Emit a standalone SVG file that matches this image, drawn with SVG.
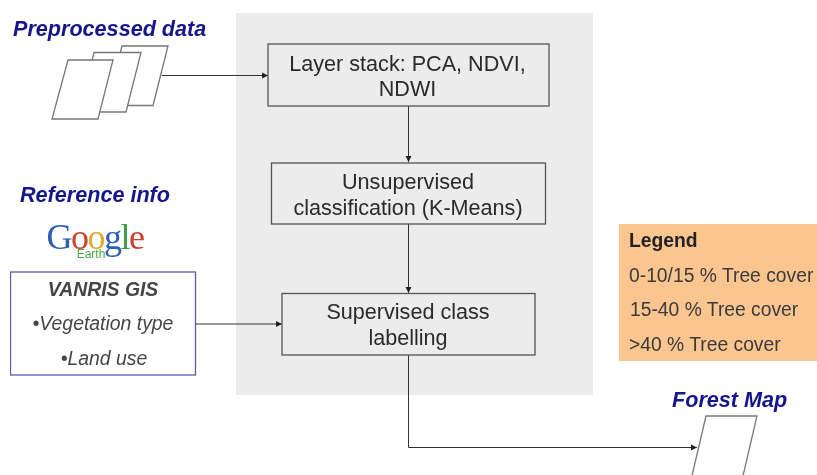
<svg xmlns="http://www.w3.org/2000/svg" width="817" height="475" viewBox="0 0 817 475">
<style>
text{font-family:"Liberation Sans",Arial,sans-serif}
.box{fill:#ececec;stroke:#555;stroke-width:1.3}
.sheet{fill:#fff;stroke:#777;stroke-width:1.3}
.t{font-size:21.600px;fill:#2a2a2a;text-anchor:middle}
.h{font-size:21.600px;font-weight:bold;font-style:italic;fill:#14148c}
.i{font-size:19.400px;font-style:italic;fill:#444;text-anchor:middle}
.l{font-size:19.300px;fill:#3a3a3a}
.c{fill:none;stroke:#333;stroke-width:1;marker-end:url(#a)}
.logo{font-family:"Liberation Serif",serif;font-size:36px}
</style>
<defs>
<marker id="a" markerUnits="userSpaceOnUse" markerWidth="8" markerHeight="8" refX="7" refY="4" orient="auto"><path d="M1 1L7 4L1 7Z" fill="#222"/></marker>
<filter id="soft" x="0" y="0" width="100%" height="100%"><feGaussianBlur stdDeviation="0.4"/></filter>
</defs>
<rect width="817" height="475" fill="#fff"/>
<g filter="url(#soft)">
<rect id="panel" x="236" y="13" width="357" height="382" fill="#ececec"/>
<g id="connectors">
<path class="c" d="M162 75.500H268"/>
<path class="c" d="M408.500 106V162"/>
<path class="c" d="M408.500 224V293"/>
<path class="c" d="M195 324H282"/>
<path class="c" d="M408.500 355V447.500H697"/>
</g>
<g id="preprocessed-data">
<text class="h" x="13" y="36">Preprocessed data</text>
<path class="sheet" d="M122 46H168L153 105.500H107Z"/>
<path class="sheet" d="M94 52.500H141L126 112H80Z"/>
<path class="sheet" d="M68 60H113L98 119H52Z"/>
</g>
<g id="layer-stack">
<rect class="box" x="268" y="44" width="281" height="62"/>
<text class="t" x="407.500" y="71">Layer stack: PCA, NDVI,</text>
<text class="t" x="407.500" y="96">NDWI</text>
</g>
<g id="unsupervised">
<rect class="box" x="271.500" y="163" width="274" height="61"/>
<text class="t" x="408" y="189">Unsupervised</text>
<text class="t" x="408" y="214.500">classification (K-Means)</text>
</g>
<g id="supervised">
<rect class="box" x="282" y="293.500" width="253" height="61.500"/>
<text class="t" x="408" y="319">Supervised class</text>
<text class="t" x="408" y="345">labelling</text>
</g>
<g id="reference-info">
<text class="h" x="20" y="202">Reference info</text>
<text class="logo" x="95" y="249" text-anchor="middle" letter-spacing="-1.500"><tspan fill="#2a5db5">G</tspan><tspan fill="#c9402f">o</tspan><tspan fill="#e0a92c">o</tspan><tspan fill="#2a5db5">g</tspan><tspan fill="#3f9c45">l</tspan><tspan fill="#c9402f">e</tspan></text>
<text x="91" y="258" font-size="12" fill="#4aa94a" text-anchor="middle">Earth</text>
</g>
<g id="vanris">
<rect x="10.500" y="272" width="185" height="103" fill="#fff" stroke="#5a5aa8" stroke-width="1.300"/>
<text class="i" x="103" y="296" font-weight="bold" fill="#222">VANRIS GIS</text>
<text class="i" x="103" y="330">•Vegetation type</text>
<text class="i" x="104" y="365">•Land use</text>
</g>
<g id="legend">
<rect x="619" y="224" width="198" height="137" fill="#fbc590"/>
<text class="l" x="629" y="247" font-weight="bold" style="fill:#222">Legend</text>
<text class="l" x="629" y="282">0-10/15 % Tree cover</text>
<text class="l" x="630" y="316">15-40 % Tree cover</text>
<text class="l" x="629" y="351">&gt;40 % Tree cover</text>
</g>
<g id="forest-map">
<text class="h" x="672" y="407">Forest Map</text>
<path class="sheet" d="M706 416H757L742 480H691Z"/>
</g>
</g>
</svg>
